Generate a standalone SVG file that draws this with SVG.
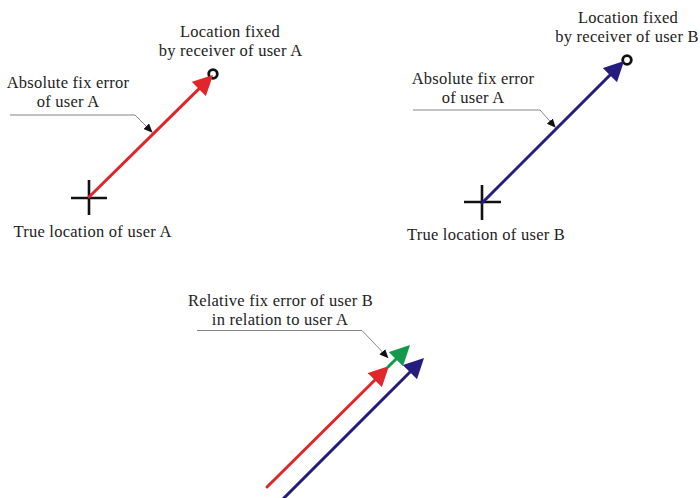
<svg xmlns="http://www.w3.org/2000/svg" width="700" height="498" viewBox="0 0 700 498">
<defs>
<style>
text{font-family:"Liberation Serif","Times New Roman",serif;font-size:16.5px;letter-spacing:0.25px;fill:#222;text-anchor:middle}
.vec{fill:none;stroke-width:3;stroke-linecap:round}
.red{stroke:#e0262a}
.blue{stroke:#241c7e}
.green{stroke:#13994a}
.cross{stroke:#111;stroke-width:2.6;fill:none}
.fix{stroke:#111;stroke-width:2.8;fill:#fff}
.leader{fill:none;stroke:#777;stroke-width:0.9}
</style>
<marker id="hRed" markerUnits="userSpaceOnUse" markerWidth="20" markerHeight="20" refX="0.5" refY="9" orient="auto" viewBox="0 0 18 18"><path d="M0,0 L18,9 L0,18 Z" fill="#e0262a"/></marker>
<marker id="hBlue" markerUnits="userSpaceOnUse" markerWidth="20" markerHeight="20" refX="0.5" refY="9" orient="auto" viewBox="0 0 18 18"><path d="M0,0 L18,9 L0,18 Z" fill="#241c7e"/></marker>
<marker id="hGreen" markerUnits="userSpaceOnUse" markerWidth="20" markerHeight="20" refX="0.5" refY="9" orient="auto" viewBox="0 0 18 18"><path d="M0,0 L18,9 L0,18 Z" fill="#13994a"/></marker>
<marker id="hBlack" markerUnits="userSpaceOnUse" markerWidth="9" markerHeight="8" refX="0.3" refY="3.5" orient="auto" viewBox="0 0 8 7"><path d="M0,0 L8,3.5 L0,7 Z" fill="#111"/></marker>
</defs>

<g id="trueA"><path class="cross" d="M71,198 H107 M89,180 V215"/><text x="92.5" y="236.5">True location of user A</text></g>
<g id="fixA"><circle class="fix" cx="213" cy="74" r="4.3"/><text x="230" y="36.5">Location fixed</text><text x="230.5" y="55.5">by receiver of user A</text></g>
<g id="labelA"><text x="68" y="88">Absolute fix error</text><text x="68" y="107">of user A</text></g>

<g id="trueB"><path class="cross" d="M464,202 H501 M482,185 V220"/><text x="486" y="239.5">True location of user B</text></g>
<g id="fixB"><circle class="fix" cx="627" cy="60" r="4.3"/><text x="628" y="22.5">Location fixed</text><text x="627" y="41.5">by receiver of user B</text></g>
<g id="labelB"><text x="473" y="83.5">Absolute fix error</text><text x="473" y="102.5">of user A</text></g>

<g id="labelRel"><text x="280.5" y="305.5">Relative fix error of user B</text><text x="280" y="324.5">in relation to user A</text></g>

<g id="connectors">
<path class="vec red" d="M89,197 L199.2,88.6" marker-end="url(#hRed)"/>
<path class="vec blue" d="M482,203 L610.3,74.7" marker-end="url(#hBlue)"/>
<path class="vec red" d="M267,487 L375.2,379.7" marker-end="url(#hRed)"/>
<path class="vec blue" d="M280,502 L410.3,371.7" marker-end="url(#hBlue)"/>
<path class="vec green" d="M388,367 L396.3,358.7" marker-end="url(#hGreen)"/>
<path class="leader" d="M10,115 H135 L146.5,126.5" marker-end="url(#hBlack)"/>
<path class="leader" d="M413,110 H540 L550,121.3" marker-end="url(#hBlack)"/>
<path class="leader" d="M197,330.5 H362 L382.5,352" marker-end="url(#hBlack)"/>
</g>
</svg>
